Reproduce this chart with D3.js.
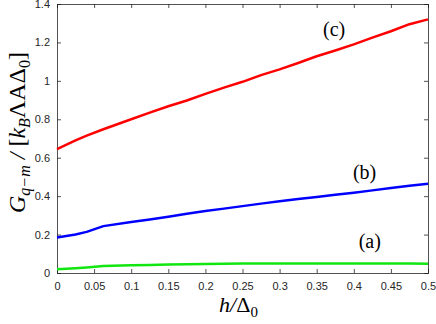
<!DOCTYPE html>
<html>
<head>
<meta charset="utf-8">
<script src="https://cdn.jsdelivr.net/npm/d3@7"></script>
<style>
  body { margin: 0; background: #fff; }
  svg { display: block; }
</style>
</head>
<body>
<div id="chart"></div>
<script>
// data
var hValues = [0, 0.025, 0.04, 0.0625, 0.1, 0.125, 0.15, 0.175, 0.2, 0.225, 0.25,
               0.275, 0.3, 0.325, 0.35, 0.375, 0.4, 0.425, 0.45, 0.475, 0.5];
var seriesC = [0.645, 0.69, 0.715, 0.748, 0.80, 0.835, 0.868, 0.898, 0.932, 0.965, 0.995,
               1.03, 1.06, 1.093, 1.128, 1.158, 1.19, 1.225, 1.258, 1.295, 1.32];
var seriesB = [0.185, 0.20, 0.214, 0.244, 0.265, 0.279, 0.293, 0.308, 0.323, 0.335, 0.348,
               0.361, 0.373, 0.385, 0.396, 0.407, 0.418, 0.43, 0.442, 0.454, 0.465];
var seriesA = [0.02, 0.025, 0.029, 0.036, 0.04, 0.042, 0.044, 0.046, 0.047, 0.048, 0.049,
               0.05, 0.05, 0.05, 0.05, 0.05, 0.05, 0.05, 0.049, 0.049, 0.048];
var xTicks = [0, 0.05, 0.1, 0.15, 0.2, 0.25, 0.3, 0.35, 0.4, 0.45, 0.5];
var yTicks = [0, 0.2, 0.4, 0.6, 0.8, 1, 1.2, 1.4];
var seriesNames = ["(a)", "(b)", "(c)"];
var seriesColors = ["#11e611", "#0000ff", "#ff0000"];

var margin = {top: 4, right: 8, bottom: 51, left: 57};
var width = 436 - margin.left - margin.right;
var height = 324 - margin.top - margin.bottom;

var x = d3.scaleLinear().domain([0, 0.5]).range([0, width]);
var y = d3.scaleLinear().domain([0, 1.4]).range([height, 0]);

var svg = d3.select("#chart").append("svg")
    .attr("width", 436)
    .attr("height", 324)
    .append("g")
    .attr("transform", "translate(" + margin.left + "," + margin.top + ")");

var axisColor = "#262626";
var fmt = function(d) { return d3.format("")(+d.toFixed(2)); };

// bottom and left axes, ticks pointing inward like matlab
var xAxis = svg.append("g")
    .attr("transform", "translate(0," + height + ")")
    .call(d3.axisBottom(x).tickValues(xTicks).tickSize(-4).tickPadding(9).tickFormat(fmt));
var yAxis = svg.append("g")
    .call(d3.axisLeft(y).tickValues(yTicks).tickSize(-4).tickPadding(7).tickFormat(fmt));
// mirrored top and right
var xTop = svg.append("g")
    .call(d3.axisTop(x).tickValues(xTicks).tickSize(-4).tickFormat(""));
var yRight = svg.append("g")
    .attr("transform", "translate(" + width + ",0)")
    .call(d3.axisRight(y).tickValues(yTicks).tickSize(-4).tickFormat(""));

[xAxis, yAxis, xTop, yRight].forEach(function(g) {
    g.selectAll("path").attr("stroke", axisColor).attr("stroke-width", 0.8);
    g.selectAll("line").attr("stroke", axisColor).attr("stroke-width", 0.8);
    g.selectAll("text")
        .attr("fill", axisColor)
        .style("font-family", "'Liberation Sans', Arial, sans-serif")
        .style("font-size", "11px");
});

// the three curves
var allSeries = [seriesA, seriesB, seriesC];
var line = d3.line()
    .x(function(d, i) { return x(hValues[i]); })
    .y(function(d) { return y(d); });

allSeries.forEach(function(s, k) {
    svg.append("path")
        .datum(s)
        .attr("fill", "none")
        .attr("stroke", seriesColors[k])
        .attr("stroke-width", 2.5)
        .attr("stroke-linejoin", "round")
        .attr("d", line);
});

// curve labels
var labelPos = [[0.4215, 0.13], [0.4145, 0.49], [0.3735, 1.235]];
seriesNames.forEach(function(name, k) {
    svg.append("text")
        .attr("x", x(labelPos[k][0]))
        .attr("y", y(labelPos[k][1]))
        .attr("text-anchor", "middle")
        .style("font-family", "'Liberation Serif', 'Times New Roman', serif")
        .style("font-size", "20px")
        .text(name);
});

// x label
var xl = svg.append("text")
    .attr("x", width / 2 - 4)
    .attr("y", height + 39)
    .attr("text-anchor", "middle")
    .style("font-family", "'Liberation Serif', 'Times New Roman', serif")
    .style("font-size", "22px");
xl.append("tspan").style("font-style", "italic").text("h");
xl.append("tspan").style("font-style", "italic").text("/");
xl.append("tspan").text("Δ");
xl.append("tspan").attr("dy", 5).style("font-size", "15px").text("0");

// y label
var yl = svg.append("text")
    .attr("transform", "rotate(-90)")
    .attr("x", -(height / 2) + 6)
    .attr("y", -margin.left + 25)
    .attr("text-anchor", "middle")
    .style("font-family", "'Liberation Serif', 'Times New Roman', serif")
    .style("font-size", "24px");
yl.append("tspan").style("font-style", "italic").text("G");
yl.append("tspan").attr("dy", 5).style("font-size", "16px").style("font-style", "italic").text("q−m");
yl.append("tspan").attr("dy", -5).style("font-style", "italic").text(" / ");
yl.append("tspan").text("[");
yl.append("tspan").style("font-style", "italic").text("k");
yl.append("tspan").attr("dy", 5).style("font-size", "16px").style("font-style", "italic").text("B");
yl.append("tspan").attr("dy", -5).text("ΛAΔ");
yl.append("tspan").attr("dy", 5).style("font-size", "16px").text("0");
yl.append("tspan").attr("dy", -5).text("]");
</script>
</body>
</html>
